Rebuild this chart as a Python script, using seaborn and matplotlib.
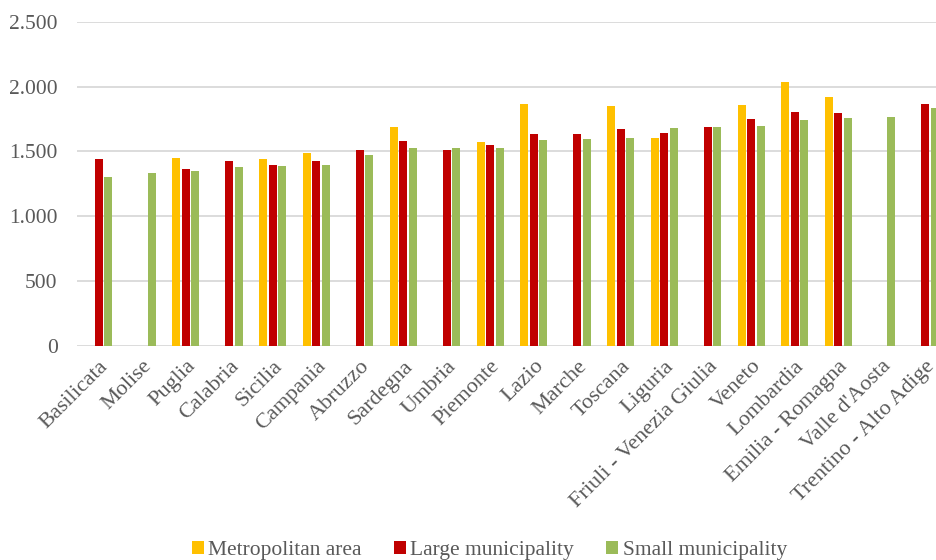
import numpy as np
import pandas as pd
import matplotlib
matplotlib.use('Agg')
import matplotlib.pyplot as plt
import seaborn as sns
from matplotlib.ticker import FuncFormatter
from matplotlib.patches import Patch

# ========================================
# Данные
# ========================================
regions = ['Basilicata', 'Molise', 'Puglia', 'Calabria', 'Sicilia', 'Campania',
           'Abruzzo', 'Sardegna', 'Umbria', 'Piemonte', 'Lazio', 'Marche',
           'Toscana', 'Liguria', 'Friuli - Venezia Giulia', 'Veneto',
           'Lombardia', 'Emilia - Romagna', "Valle d'Aosta", 'Trentino - Alto Adige']

metropolitan = [np.nan, np.nan, 1452, np.nan, 1442, 1486,
                np.nan, 1689, np.nan, 1575, 1866, np.nan,
                1851, 1601, np.nan, 1856,
                2034, 1923, np.nan, np.nan]
large = [1442, np.nan, 1364, 1424, 1398, 1424,
         1511, 1581, 1511, 1547, 1637, 1637,
         1671, 1645, 1686, 1751,
         1805, 1794, np.nan, 1866]
small = [1303, 1331, 1347, 1382, 1385, 1398,
         1473, 1527, 1527, 1527, 1586, 1596,
         1604, 1679, 1686, 1699,
         1741, 1761, 1766, 1835]

series_names = ['Metropolitan area', 'Large municipality', 'Small municipality']
colors = ['#FFC000', '#C00000', '#9BBB59']

# long-form таблица для seaborn
df = pd.DataFrame({
    'region': regions * 3,
    'type': [series_names[0]] * 20 + [series_names[1]] * 20 + [series_names[2]] * 20,
    'value': metropolitan + large + small,
})

# ========================================
# Визуализация
# ========================================
sns.set_theme(style='white')
plt.rcParams['font.family'] = ['Liberation Serif', 'DejaVu Serif']

fig = plt.figure(figsize=(9.36, 5.6), dpi=100)
ax = fig.add_axes([0.0823, 0.3827, 0.9295, 0.578])

sns.barplot(data=df, x='region', y='value', hue='type', order=regions,
            hue_order=series_names, palette=colors, width=0.66, gap=0.14,
            saturation=1, linewidth=0, legend=False, ax=ax)

ax.set_xlim(-0.5, 19.5)
ax.set_ylim(0, 2500)
ax.set_yticks([0, 500, 1000, 1500, 2000, 2500])
ax.yaxis.set_major_formatter(FuncFormatter(lambda v, p: f'{int(v):,}'.replace(',', '.')))
ax.grid(axis='y', color='#D9D9D9', linewidth=1.3)
ax.set_axisbelow(True)
for s in ax.spines.values():
    s.set_visible(False)
ax.set_xlabel('')
ax.set_ylabel('')
ax.tick_params(axis='both', length=0, colors='#595959')
ax.tick_params(axis='x', labelsize=16, pad=8)
ax.tick_params(axis='y', labelsize=15.5, pad=14)
plt.setp(ax.get_xticklabels(), rotation=45, ha='right', rotation_mode='anchor')

handles = [Patch(facecolor=c, edgecolor='none') for c in colors]
fig.legend(handles, series_names, loc='lower center', bbox_to_anchor=(0.523, -0.034),
           ncol=3, frameon=False, fontsize=15.5, labelcolor='#595959',
           handlelength=0.55, handleheight=0.55, handletextpad=0.2, columnspacing=1.5)

fig.savefig('out.png', dpi=100)
